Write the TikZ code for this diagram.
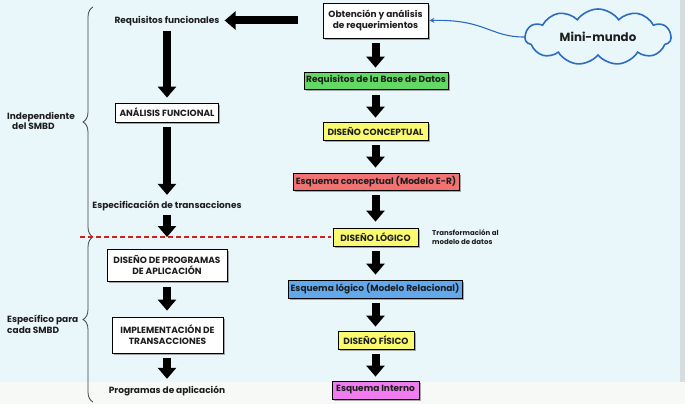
\documentclass[tikz,border=0pt]{standalone}
\usepackage{fontspec}
\setmainfont{Poppins}
\usetikzlibrary{arrows.meta,shapes.symbols,shadows,decorations.pathreplacing}
\definecolor{bg}{HTML}{E9F6FA}
\definecolor{bgbot}{HTML}{F7F9F7}
\definecolor{edge}{HTML}{D6DCDF}
\definecolor{cgreen}{HTML}{62D962}
\definecolor{cyellow}{HTML}{FAFA6E}
\definecolor{csalmon}{HTML}{F07272}
\definecolor{cblue}{HTML}{62A8EC}
\definecolor{cmag}{HTML}{F07CF0}
\definecolor{cloudblue}{HTML}{2B6CC4}
\definecolor{dashred}{HTML}{D02020}
\definecolor{txt}{HTML}{1E1E1E}
\begin{document}
\begin{tikzpicture}[x=1pt,y=-1pt,
  font=\fontsize{9}{10.8}\selectfont\bfseries, text=txt,
  box/.style={draw=black, line width=0.8pt, inner sep=1pt, align=center,
    drop shadow={shadow xshift=1.6pt, shadow yshift=-1.6pt, fill=black!60, opacity=0.55}},
  plain/.style={inner sep=1pt, align=center},
  bigarrow/.style={line width=8pt, -{Triangle[width=18pt,length=11pt]}, draw=black}
]
\useasboundingbox (0,0) rectangle (685,404);
\fill[bg] (0,0) rectangle (685,404);
\fill[bgbot] (0,382) rectangle (685,404);
\fill[edge] (680,0) rectangle (685,382);

% left column
\node[plain] (rf) at (167,21) {Requisitos funcionales};
\node[box, fill=white, minimum width=103, minimum height=19] (af) at (167,112.5) {ANÁLISIS FUNCIONAL};
\node[plain] (et) at (167,206) {Especificación de transacciones};
\node[box, fill=white, minimum width=120, minimum height=32] (dp) at (167,265) {DISEÑO DE PROGRAMAS\\DE APLICACIÓN};
\node[box, fill=white, minimum width=111, minimum height=36] (it) at (167.5,335) {IMPLEMENTACIÓN DE\\TRANSACCIONES};
\node[plain] (pa) at (167,391) {Programas de aplicación};

% right column
\node[box, fill=white, minimum width=105, minimum height=35] (oa) at (375.5,20.5) {Obtención y análisis\\de requerimientos};
\node[box, fill=cgreen, minimum width=144, minimum height=17] (rbd) at (376,80.5) {Requisitos de la Base de Datos};
\node[box, fill=cyellow, minimum width=105, minimum height=18] (dc) at (375.5,131) {DISEÑO CONCEPTUAL};
\node[box, fill=csalmon, minimum width=166, minimum height=17] (ec) at (376,181.5) {Esquema conceptual (Modelo E-R)};
\node[box, fill=cyellow, minimum width=85, minimum height=18] (dl) at (375.5,237) {DISEÑO LÓGICO};
\node[box, fill=cblue, minimum width=174, minimum height=18] (el) at (375,289) {Esquema lógico (Modelo Relacional)};
\node[box, fill=cyellow, minimum width=76, minimum height=18] (df) at (376,340) {DISEÑO FÍSICO};
\node[box, fill=cmag, minimum width=87, minimum height=18] (ei) at (375.5,390) {Esquema Interno};

\node[anchor=west, inner sep=0pt, align=left, font=\fontsize{7}{8.4}\selectfont\bfseries] (tm) at (432,237) {Transformación al\\modelo de datos};

% cloud
\node[cloud, cloud puffs=11, cloud puff arc=110, aspect=2.6, draw=cloudblue, line width=1.6pt,
  fill=bg, minimum width=146, minimum height=56, inner sep=0pt,
  font=\fontsize{11.8}{14}\selectfont\bfseries] (mm) at (598,37) {Mini-mundo};

% side labels
\node[anchor=west, align=left, inner sep=0pt] (ind) at (7,121) {Independiente\\\hspace{5pt}del SMBD};
\node[anchor=west, align=left, inner sep=0pt] (esp) at (7,324) {Específico para\\cada SMBD};

% braces
\coordinate (bt) at (93,7);
\coordinate (bm) at (93,237);
\coordinate (bb) at (93,402);
\draw[decorate, decoration={brace, amplitude=10pt}, line width=0.8pt, draw=black!75] (bm) -- (bt);
\draw[decorate, decoration={brace, amplitude=10pt}, line width=0.8pt, draw=black!75] (bb) -- (bm);

% red dashed line
\coordinate (rd) at (80,237);
\draw[dashred, line width=1.6pt, dash pattern=on 5pt off 3pt] (rd) -- ([xshift=-2pt]dl.west);

% arrows left
\draw[bigarrow] ([xshift=-25pt]oa.west) -- ([xshift=4pt]rf.east |- oa.west);
\draw[bigarrow] ([yshift=-4pt]rf.south) -- ([yshift=5pt]af.north);
\draw[bigarrow] ([yshift=-5pt]af.south) -- ([yshift=5pt]et.north);
\draw[bigarrow] ([yshift=-3pt]et.south) -- (et.south |- rd);
\draw[bigarrow] ([yshift=-6pt]dp.south) -- ([yshift=6pt]dp.south |- it.north);
\draw[bigarrow] ([yshift=-5pt]it.south -| pa.north) -- ([yshift=6pt]pa.north);

% arrows right
\draw[bigarrow] ([yshift=-5pt]oa.south) -- ([yshift=4pt]oa.south |- rbd.north);
\draw[bigarrow] ([yshift=-6pt]rbd.south -| oa.south) -- ([yshift=4pt]oa.south |- dc.north);
\draw[bigarrow] ([yshift=-5pt]dc.south) -- ([yshift=5pt]dc.south |- ec.north);
\draw[bigarrow] ([yshift=-5pt]ec.south -| dc.south) -- ([yshift=6pt]dc.south |- dl.north);
\draw[bigarrow] ([yshift=-5pt]dl.south) -- ([yshift=5pt]dl.south |- el.north);
\draw[bigarrow] ([yshift=-5pt]el.south -| dl.south) -- ([yshift=4pt]dl.south |- df.north);
\draw[bigarrow] ([yshift=-5pt]df.south -| dl.south) -- ([yshift=4pt]dl.south |- ei.north);

% cloud connector
\draw[cloudblue, line width=1.1pt, -{Stealth[length=5pt,width=5pt]}] (mm.west) .. controls (490,37) and (485,19) .. ([xshift=1pt]oa.east);
\end{tikzpicture}
\end{document}
